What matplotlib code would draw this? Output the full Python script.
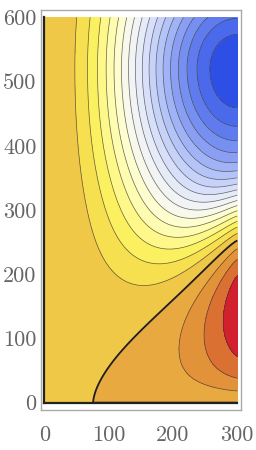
import numpy as np
import matplotlib.pyplot as plt

# grid of the plotted region
x = np.linspace(0, 300, 301)
y = np.linspace(0, 600, 601)

# blue well near the top of the right edge
well_depth = 17.9
well_y = 520
well_sig_below = 268
well_sig_above = 234
x_power = 2.05
foot = 35

# red bump lower down on the right edge
bump_base = 2.1
bump_slope = 0.029
bump_top = 300
bump_width = 150
bump_narrow_y = 254
bump_shape = 1.2

levels = np.arange(-18, 5)
band_colors = ['#2d4fe6', '#4a69eb', '#5f7bee', '#7590f1', '#8a9ff4', '#a0b3f6',
               '#b4c4f8', '#c7d2f9', '#d8dffa', '#e6ebf8', '#f1f3f4', '#f8f9ec',
               '#fefdd0', '#fefcb0', '#fef88a', '#fbf060', '#f7e050', '#f0c848',
               '#e8aa40', '#e29238', '#db7033', '#d2202e']

X, Y = np.meshgrid(x, y)
sx = np.sin(np.pi * X / (2 * x.max())) ** x_power
sig = np.where(Y < well_y, well_sig_below, well_sig_above)
well = well_depth * np.exp(-((Y - well_y) / sig) ** 2)
width = bump_width / (1 + (Y / bump_narrow_y) ** 3)
bump = (bump_base + bump_slope * Y) * np.exp(-(Y / bump_top) ** 6)
bump = bump * np.exp(-((x.max() - X) / width) ** bump_shape)
Z = sx * np.tanh(Y / foot) * (bump - well)

fig = plt.figure(figsize=(2.56, 4.5), dpi=100)
ax = fig.add_axes([40.7 / 256, 40 / 450, 200 / 256, 400 / 450])

ax.contourf(X, Y, Z, levels=levels, colors=band_colors)
ax.contour(X, Y, Z, levels=levels[levels != 0], colors='#333333',
           linewidths=0.5, alpha=0.75, negative_linestyles='solid')
ax.contour(X, Y, Z, levels=[0], colors='#1e1e1e', linewidths=1.3)
ax.plot(np.full_like(y, x[0]), y, color='#222222', lw=1.6)
ax.plot(x, np.full_like(x, y[0]), color='#222222', lw=1.6)

ax.set_xlim(-5.9, 305.3)
ax.set_ylim(-11.4, 611.4)
ax.set_xticks([0, 100, 200, 300])
ax.set_yticks([0, 100, 200, 300, 400, 500, 600])
ax.tick_params(length=0, labelsize=16, labelcolor='#666666')
ax.tick_params(axis='x', pad=11)
ax.tick_params(axis='y', pad=3)
for lab in ax.get_xticklabels() + ax.get_yticklabels():
    lab.set_family('cmr10')
for s in ax.spines.values():
    s.set_color('#aaaaaa')
    s.set_linewidth(1.0)

fig.savefig('out.png', dpi=100)
